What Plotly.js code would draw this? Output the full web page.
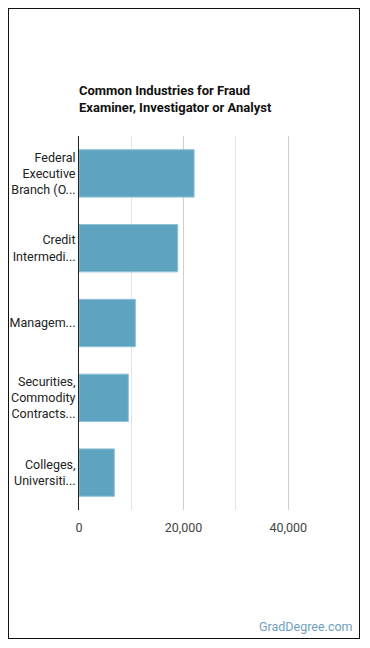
<!DOCTYPE html>
<html>
<head>
<meta charset="utf-8">
<script src="https://cdn.plot.ly/plotly-3.0.1.min.js"></script>
<style>
  html, body { margin: 0; padding: 0; background: #fff; }
  #wrap { position: relative; width: 370px; height: 648px; }
  #chart { position: absolute; left: 0; top: 0; width: 370px; height: 648px; }
  #frame { position: absolute; left: 8px; top: 8px; width: 350px; height: 629px; border: 1px solid #111; pointer-events: none; }
</style>
</head>
<body>
<div id="wrap">
  <div id="chart"></div>
  <div id="frame"></div>
</div>
<script>
const categories = [
  "Federal<br>Executive<br>Branch (O...",
  "Credit<br>Intermedi...",
  "Managem...",
  "Securities,<br>Commodity<br>Contracts...",
  "Colleges,<br>Universiti..."
];
const employees = [22000, 18870, 10770, 9430, 6750];
const tickValues = [0, 20000, 40000];
const tickLabels = ["0", "20,000", "40,000"];
const chartTitle = "Common Industries for Fraud<br>Examiner, Investigator or Analyst";
const sourceText = "GradDegree.com";

const trace = {
  type: "bar",
  orientation: "h",
  y: categories,
  x: employees,
  marker: { color: "#5ea4c1", line: { color: "#8cc0d6", width: 1 } },
  hoverinfo: "none"
};

const layout = {
  width: 370,
  height: 648,
  margin: { l: 79, r: 30, t: 135.5, b: 137.5 },
  paper_bgcolor: "#fff",
  plot_bgcolor: "#fff",
  font: { family: "Roboto, 'Open Sans', sans-serif", color: "#333", size: 12.5 },
  bargap: 0.367,
  showlegend: false,
  title: {
    text: "<b>" + chartTitle + "</b>",
    font: { family: "Roboto, sans-serif", size: 13, color: "#111" },
    x: 79 / 370, xref: "container", xanchor: "left",
    y: 1 - 95 / 648, yref: "container", yanchor: "top"
  },
  xaxis: {
    range: [0, 49900],
    tickvals: tickValues,
    ticktext: tickLabels,
    showgrid: true,
    gridcolor: "#cfcfcf",
    gridwidth: 1,
    minor: { dtick: 10000, tick0: 0, showgrid: true, gridcolor: "#e4e4e4", gridwidth: 1 },
    zeroline: false,
    showline: false,
    ticks: "outside",
    ticklen: 6,
    tickcolor: "rgba(0,0,0,0)",
    tickfont: { size: 12.5, color: "#444" },
    fixedrange: true
  },
  yaxis: {
    autorange: "reversed",
    showgrid: false,
    showline: true,
    linecolor: "#222",
    linewidth: 1,
    ticks: "",
    tickfont: { size: 12.5, color: "#222" },
    fixedrange: true
  },
  annotations: [{
    text: sourceText,
    xref: "paper", yref: "paper",
    x: 1, xanchor: "right",
    y: 0, yanchor: "middle",
    yshift: -(627 - 510.5),
    xshift: 15,
    showarrow: false,
    font: { size: 12.5, color: "#6f9fbd", family: "Roboto, sans-serif" }
  }]
};

Plotly.newPlot("chart", [trace], layout, { displayModeBar: false, staticPlot: true });
</script>
</body>
</html>
